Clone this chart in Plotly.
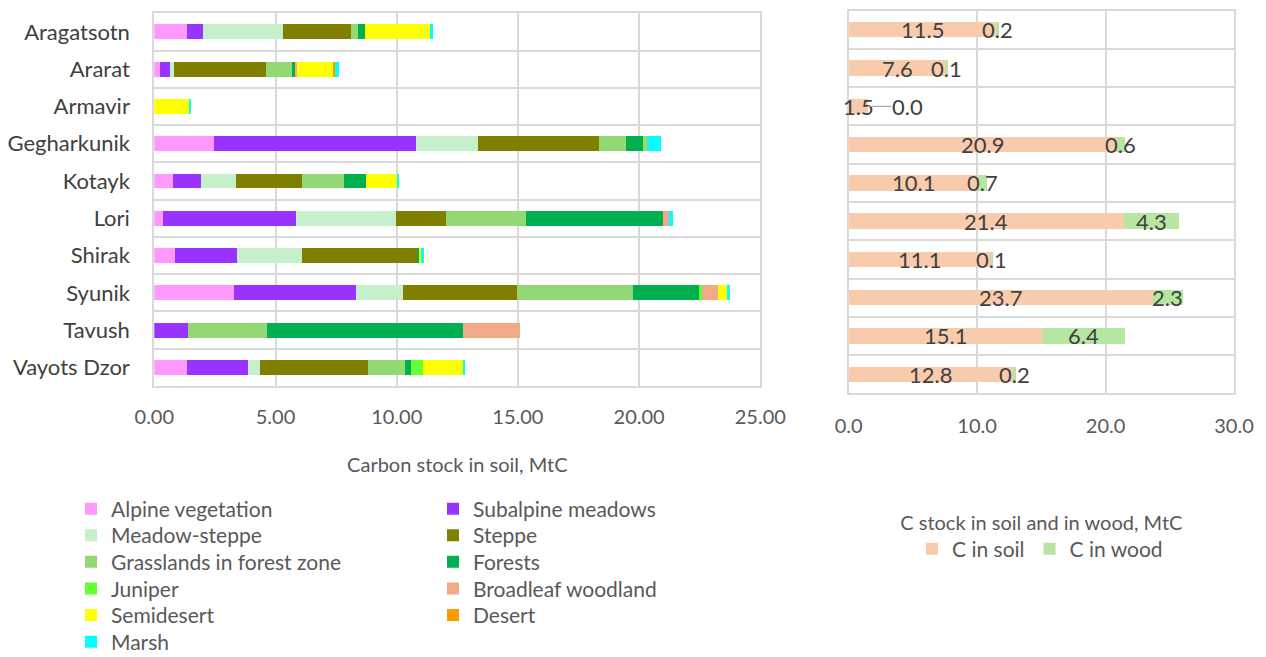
import plotly.graph_objects as go

regions = ["Aragatsotn", "Ararat", "Armavir", "Gegharkunik", "Kotayk",
           "Lori", "Shirak", "Syunik", "Tavush", "Vayots Dzor"]

alpine     = [1.34, 0.24, 0.00, 2.46, 0.77, 0.34, 0.86, 3.29, 0.00, 1.34]
subalpine  = [0.68, 0.41, 0.00, 8.34, 1.16, 5.51, 2.55, 5.03, 1.37, 2.53]
meadow     = [3.28, 0.18, 0.00, 2.57, 1.43, 4.13, 2.69, 1.94, 0.00, 0.47]
steppe     = [2.82, 3.78, 0.00, 4.98, 2.74, 2.06, 4.78, 4.70, 0.00, 4.49]
grassland  = [0.30, 1.07, 0.00, 1.12, 1.71, 3.28, 0.00, 4.78, 3.26, 1.50]
forests    = [0.29, 0.14, 0.00, 0.70, 0.92, 5.67, 0.07, 2.77, 8.11, 0.25]
juniper    = [0.00, 0.00, 0.00, 0.12, 0.00, 0.00, 0.00, 0.07, 0.00, 0.52]
broadleaf  = [0.00, 0.05, 0.00, 0.05, 0.00, 0.24, 0.00, 0.69, 2.34, 0.00]
semidesert = [2.71, 1.54, 1.47, 0.00, 1.27, 0.00, 0.06, 0.40, 0.00, 1.66]
desert     = [0.00, 0.05, 0.00, 0.00, 0.00, 0.00, 0.00, 0.00, 0.00, 0.00]
marsh      = [0.08, 0.18, 0.04, 0.55, 0.09, 0.17, 0.10, 0.06, 0.00, 0.05]

c_soil = [11.5, 7.6, 1.5, 20.9, 10.1, 21.4, 11.1, 23.7, 15.1, 12.8]
c_wood = [0.2, 0.1, 0.0, 0.6, 0.7, 4.3, 0.1, 2.3, 6.4, 0.2]

left_ticks = [0, 5, 10, 15, 20, 25]
right_ticks = [0, 10, 20, 30]

series_names = ["Alpine vegetation", "Subalpine meadows", "Meadow-steppe", "Steppe",
                "Grasslands in forest zone", "Forests", "Juniper", "Broadleaf woodland",
                "Semidesert", "Desert", "Marsh"]
series_values = [alpine, subalpine, meadow, steppe, grassland, forests, juniper,
                 broadleaf, semidesert, desert, marsh]
series_colors = ["#FF99FF", "#9933FF", "#C6EFCB", "#808000", "#92D976", "#00B050",
                 "#66FF33", "#F0AA87", "#FFFF00", "#FF9900", "#00FFFF"]

FONT = "Lato"
TXT = "#595959"
LBL = "#404040"
GRID = "#D9D9D9"
FS_NUM = 20
FS_CAT = 22
FS_LEG = 21
FS_LAB = 22

W, H = 1266, 657
def px(x): return x / W
def py(y): return 1 - y / H

# legend layout: two columns, items filled row by row
LEG_COL_X = [71, 433]
LEG_ROW0 = 509
LEG_ROW_STEP = 26.6

fig = go.Figure()
legend_layouts = {}
for i, (name, vals, color) in enumerate(zip(series_names, series_values, series_colors)):
    lid = "legend" if i == 0 else f"legend{i + 1}"
    col, row = i % 2, i // 2
    legend_layouts[lid] = dict(
        x=px(LEG_COL_X[col]), y=py(LEG_ROW0 + row * LEG_ROW_STEP),
        xanchor="left", yanchor="middle", traceorder="normal",
        font=dict(family=FONT, size=FS_LEG, color=TXT), bgcolor="rgba(0,0,0,0)")
    fig.add_trace(go.Bar(
        y=regions, x=vals, name=name, orientation="h",
        marker=dict(color=color, line=dict(width=0)),
        legend=lid, showlegend=True, xaxis="x", yaxis="y", hoverinfo="x+name",
    ))

rid = f"legend{len(series_names) + 1}"
legend_layouts[rid] = dict(x=px(1040), y=py(549), xanchor="center", yanchor="middle",
                           orientation="h", traceorder="normal",
                           font=dict(family=FONT, size=FS_LEG, color=TXT),
                           bgcolor="rgba(0,0,0,0)")

fig.add_trace(go.Bar(y=regions, x=c_soil, name="C in soil", orientation="h",
                     marker=dict(color="#F8CBAD", line=dict(width=0)),
                     legend=rid, showlegend=True, xaxis="x2", yaxis="y2"))
fig.add_trace(go.Bar(y=regions, x=c_wood, name="C in wood", orientation="h",
                     marker=dict(color="#B5E6A2", line=dict(width=0)),
                     legend=rid, showlegend=True, xaxis="x2", yaxis="y2"))

annotations = []
lab_font = dict(family=FONT, size=FS_LAB, color=LBL)
for r, s, w in zip(regions, c_soil, c_wood):
    annotations.append(dict(x=s / 2, y=r, xref="x2", yref="y2", text=f"{s:.1f}",
                            showarrow=False, font=lab_font))
    if w > 0:
        annotations.append(dict(x=s + w / 2, y=r, xref="x2", yref="y2", text=f"{w:.1f}",
                                showarrow=False, font=lab_font))
    else:
        annotations.append(dict(x=s + w, y=r, xref="x2", yref="y2", text=f"{w:.1f}",
                                showarrow=True, arrowhead=0, arrowwidth=1.2, arrowcolor="#A6A6A6",
                                ax=40, ay=0, font=lab_font))

axis_common = dict(showgrid=True, gridcolor=GRID, gridwidth=2, zeroline=False,
                   showline=True, linecolor=GRID, linewidth=2, mirror=True,
                   automargin=False)

fig.update_layout(
    template="none",
    width=W, height=H, barmode="stack", bargap=0.6,
    showlegend=True,
    plot_bgcolor="white", paper_bgcolor="white",
    margin=dict(l=0, r=0, t=0, b=0, pad=0, autoexpand=False),
    font=dict(family=FONT, size=FS_NUM, color=TXT),
    xaxis=dict(domain=[px(154.3), px(760.3)], range=[0, 25], tickvals=left_ticks,
               tickformat=".2f", anchor="y",
               ticks="outside", ticklen=12, tickcolor="rgba(0,0,0,0)",
               tickfont=dict(family=FONT, size=FS_NUM, color=TXT),
               title=dict(text="Carbon stock in soil, MtC", standoff=31,
                          font=dict(family=FONT, size=FS_NUM, color=TXT)),
               **axis_common),
    yaxis=dict(domain=[py(386), py(13.3)], categoryorder="array", categoryarray=regions,
               autorange="reversed", tickson="boundaries", anchor="x",
               ticks="", ticklabelstandoff=18,
               tickfont=dict(family=FONT, size=FS_CAT, color=LBL),
               **axis_common),
    xaxis2=dict(domain=[px(848.7), px(1234)], range=[0, 30], tickvals=right_ticks,
                tickformat=".1f", anchor="y2",
                ticks="outside", ticklen=14, tickcolor="rgba(0,0,0,0)",
                tickfont=dict(family=FONT, size=FS_NUM, color=TXT),
                title=dict(text="C stock in soil and in wood, MtC", standoff=80,
                           font=dict(family=FONT, size=FS_NUM, color=TXT)),
                **axis_common),
    yaxis2=dict(domain=[py(393.3), py(10.7)], categoryorder="array", categoryarray=regions,
                autorange="reversed", tickson="boundaries", anchor="x2",
                ticks="", showticklabels=False, **axis_common),
    annotations=annotations,
    **legend_layouts,
)

fig.write_html(
    "out.html",
    config={"displayModeBar": False},
    post_script="document.body.style.margin='0';document.body.style.overflow='hidden';",
)
